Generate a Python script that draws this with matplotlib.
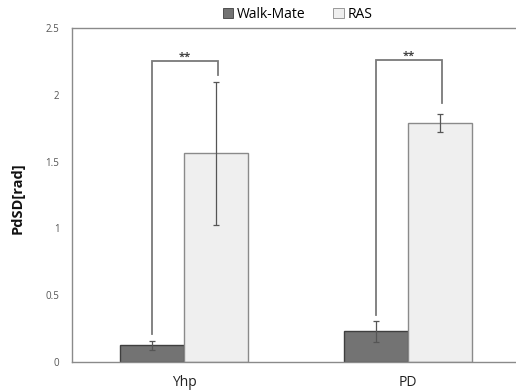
import matplotlib
matplotlib.use("Agg")
import matplotlib.pyplot as plt
from matplotlib.patches import Patch
import numpy as np

categories = ["Yhp", "PD"]
series_names = ["Walk-Mate", "RAS"]
walkmate = [0.125, 0.23]
walkmate_err = [0.035, 0.08]
ras = [1.562, 1.787]
ras_err = [0.535, 0.068]
yticks = [0, 0.5, 1, 1.5, 2, 2.5]
ytick_labels = ["0", "0.5", "1", "1.5", "2", "2.5"]
# significance brackets: (top, left leg bottom, right leg bottom)
bracket_top = [2.253, 2.26]
bracket_left_bottom = [0.207, 0.352]
bracket_right_bottom = [2.148, 1.936]
sig_labels = ["**", "**"]

plt.rcParams['font.family'] = ['Open Sans', 'DejaVu Sans']

fig = plt.figure(figsize=(5.16, 3.92), dpi=100)
ax = fig.add_axes([0.1395, 0.0765, 0.868, 0.852])

x = np.arange(len(categories))
w = 0.2857
wm_color = "#737373"
wm_edge = "#3f3f3f"
ras_color = "#efefef"
ras_edge = "#8a8a8a"
err_color = "#555555"

ax.bar(x - w/2, walkmate, w, color=wm_color, edgecolor=wm_edge, linewidth=1.0, zorder=2)
ax.bar(x + w/2, ras, w, color=ras_color, edgecolor=ras_edge, linewidth=1.0, zorder=2)
ax.errorbar(x - w/2, walkmate, yerr=walkmate_err, fmt="none", ecolor=err_color,
            elinewidth=0.9, capsize=2.5, capthick=0.9, zorder=3)
ax.errorbar(x + w/2, ras, yerr=ras_err, fmt="none", ecolor=err_color,
            elinewidth=0.9, capsize=2.5, capthick=0.9, zorder=3)

br_color = "#7a7a7a"
for i in range(len(categories)):
    xl = x[i] - w/2
    xr = x[i] + w/2 + 0.01
    ax.plot([xl, xl, xr, xr],
            [bracket_left_bottom[i], bracket_top[i], bracket_top[i], bracket_right_bottom[i]],
            color=br_color, linewidth=1.3, zorder=4, solid_joinstyle="miter")
    ax.text((xl + xr) / 2, bracket_top[i] - 0.01, sig_labels[i], ha="center", va="bottom",
            fontsize=8, fontweight="bold", color="#444444", zorder=5)

ax.set_xlim(-0.5, 1.5)
ax.set_ylim(0, 2.5)
ax.set_xticks(x)
ax.set_xticklabels(categories, fontsize=10, color="#222222")
ax.set_yticks(yticks)
ax.set_yticklabels(ytick_labels, fontsize=7, color="#555555")
ax.tick_params(axis="x", length=0, pad=9)
ax.tick_params(axis="y", length=0, pad=9)
for s in ax.spines.values():
    s.set_color("#8a8a8a")
    s.set_linewidth(1.0)
ax.spines["right"].set_visible(False)

ax.set_ylabel("PdSD[rad]", fontsize=10.5, fontweight="bold", color="#111111")
ax.yaxis.set_label_coords(-0.105, 0.49)

handles = [Patch(facecolor=wm_color, edgecolor=wm_edge, linewidth=0.6),
           Patch(facecolor=ras_color, edgecolor=ras_edge, linewidth=0.6)]
fig.legend(handles, series_names, loc="upper center", bbox_to_anchor=(0.577, 1.015),
           ncol=2, frameon=False, fontsize=10, handlelength=0.75, handleheight=0.75,
           handletextpad=0.3, columnspacing=2.0)

fig.savefig("out.png", dpi=100)
